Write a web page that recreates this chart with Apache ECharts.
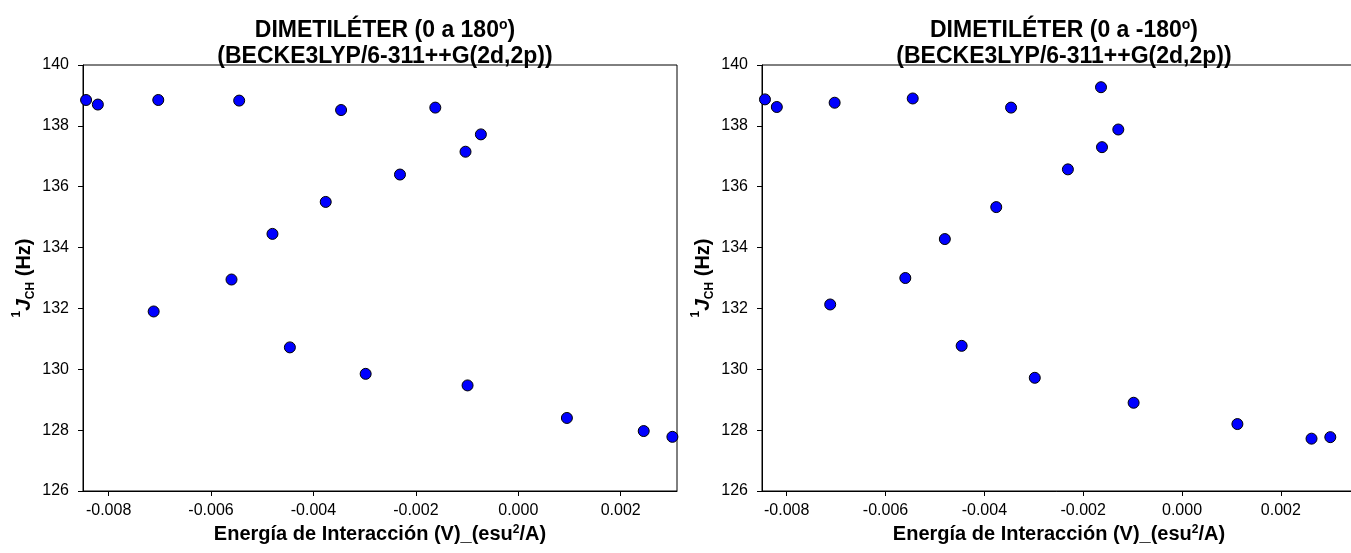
<!DOCTYPE html>
<html>
<head>
<meta charset="utf-8">
<script src="https://cdn.jsdelivr.net/npm/echarts@6/dist/echarts.min.js"></script>
<style>
html,body{margin:0;padding:0;background:#fff;}
#chart{width:1351px;height:553px;}
</style>
</head>
<body>
<div id="chart"></div>
<script>
// ---- data ----
const leftX  = [-0.00844,-0.00821,-0.00703,-0.00545,-0.00346,-0.00162,-0.00073,-0.00103,-0.00231,-0.00376,-0.00480,-0.00560,-0.00712,-0.00446,-0.00298,-0.00099,0.00095,0.00245,0.00301];
const leftY  = [138.85,138.70,138.85,138.83,138.52,138.60,137.72,137.15,136.40,135.50,134.45,132.95,131.90,130.72,129.85,129.47,128.40,127.97,127.78];
const rightX = [-0.00844,-0.00820,-0.00703,-0.00545,-0.00346,-0.00164,-0.00129,-0.00162,-0.00231,-0.00376,-0.00480,-0.00560,-0.00712,-0.00446,-0.00298,-0.00098,0.00112,0.00262,0.00300];
const rightY = [138.87,138.62,138.76,138.90,138.60,139.27,137.88,137.30,136.57,135.33,134.28,133.00,132.13,130.77,129.72,128.90,128.20,127.72,127.77];
const xTicks = [-0.008,-0.006,-0.004,-0.002,0.000,0.002];
const yTicks = [126,128,130,132,134,136,138,140];
const titleLine1 = ['DIMETILÉTER (0 a 180{sup|o})','DIMETILÉTER (0 a -180{sup|o})'];
const titleLine2 = '(BECKE3LYP/6-311++G(2d,2p))';
const xName = 'Energía de Interacción (V)_(esu{sup|2}/A)';
const yName = '{sup|1}{j|J}{sub|CH}{b| (Hz)}';

const FONT = 'Liberation Sans, Arial, sans-serif';
const chart = echarts.init(document.getElementById('chart'));

const grids = [
  {left: 83, top: 65, width: 594, height: 426},
  {left: 762, top: 65, width: 594, height: 426}
];
const xRanges = [[-0.0085, 0.0031], [-0.0085, 0.00352]];
const titleCenters = [380, 1059];

function xAxisFor(i){
  return {
    type: 'value', gridIndex: i, min: xRanges[i][0], max: xRanges[i][1],
    splitLine: {show: false},
    axisLine: {show: true, onZero: false, lineStyle: {color: '#000', width: 1}},
    axisTick: {show: true, length: 5, customValues: xTicks, lineStyle: {color: '#000'}},
    axisLabel: {customValues: xTicks, color: '#000', fontSize: 16, fontFamily: FONT, margin: 12,
      formatter: v => v.toFixed(3)},
    name: xName, nameLocation: 'middle', nameGap: 31,
    nameTextStyle: {fontSize: 20, fontWeight: 'bold', fontFamily: FONT, color: '#000', lineHeight: 22,
      rich: {sup: {fontSize: 12, fontWeight: 'bold', fontFamily: FONT, color: '#000', verticalAlign: 'top', lineHeight: 22}}}
  };
}
function yAxisFor(i){
  return {
    type: 'value', gridIndex: i, min: 126, max: 140,
    splitLine: {show: false},
    axisLine: {show: true, onZero: false, lineStyle: {color: '#000', width: 1}},
    axisTick: {show: true, length: 5, customValues: yTicks, lineStyle: {color: '#000'}},
    axisLabel: {customValues: yTicks, color: '#000', fontSize: 16, fontFamily: FONT, margin: 14},
    name: yName, nameLocation: 'middle', nameGap: 46, nameRotate: 90,
    nameTextStyle: {fontSize: 20, fontWeight: 'bold', fontFamily: FONT, color: '#000', lineHeight: 26,
      rich: {
        sup: {fontSize: 12, fontWeight: 'bold', fontFamily: FONT, color: '#000', verticalAlign: 'top', lineHeight: 26},
        j: {fontSize: 21, fontWeight: 'bold', fontStyle: 'italic', fontFamily: FONT, color: '#000', lineHeight: 26},
        sub: {fontSize: 12, fontWeight: 'bold', fontFamily: FONT, color: '#000', verticalAlign: 'bottom', lineHeight: 22},
        b: {fontSize: 20, fontWeight: 'bold', fontFamily: FONT, color: '#000', lineHeight: 26}
      }}
  };
}
function titleFor(i){
  return {
    text: titleLine1[i] + '\n' + titleLine2,
    left: titleCenters[i], top: 13, textAlign: 'center',
    textStyle: {fontSize: 23, fontWeight: 'bold', fontFamily: FONT, color: '#000', lineHeight: 26,
      rich: {sup: {fontSize: 14, fontWeight: 'bold', fontFamily: FONT, color: '#000', verticalAlign: 'top', lineHeight: 26}}}
  };
}
function seriesFor(i, xs, ys){
  return {
    type: 'scatter', xAxisIndex: i, yAxisIndex: i,
    data: xs.map((x, k) => [x, ys[k]]),
    symbol: 'circle', symbolSize: 11,
    itemStyle: {color: '#0000ff', borderColor: '#000', borderWidth: 1, opacity: 1},
    clip: false, silent: true
  };
}

chart.setOption({
  animation: false,
  backgroundColor: '#fff',
  title: [titleFor(0), titleFor(1)],
  grid: grids.map(g => Object.assign({show: true, borderColor: '#000', borderWidth: 1, backgroundColor: 'transparent',
    containLabel: false, outerBoundsMode: 'none'}, g)),
  xAxis: [xAxisFor(0), xAxisFor(1)],
  yAxis: [yAxisFor(0), yAxisFor(1)],
  series: [seriesFor(0, leftX, leftY), seriesFor(1, rightX, rightY)]
});
</script>
</body>
</html>
